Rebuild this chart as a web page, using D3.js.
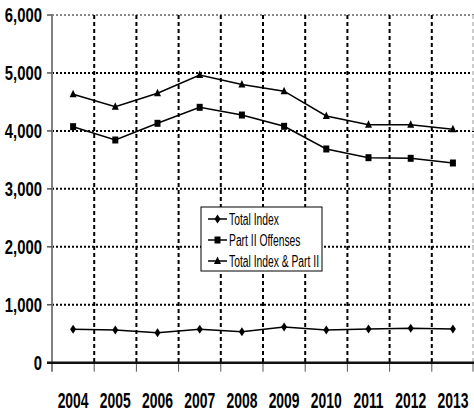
<!DOCTYPE html>
<html><head><meta charset="utf-8">
<script src="https://cdn.jsdelivr.net/npm/d3@7"></script>
<style>
body{margin:0;background:#fff;}
svg{display:block;}
text{font-family:"Liberation Sans Narrow","Arial Narrow","Liberation Sans",sans-serif;}
</style></head>
<body>
<svg id="c" width="474" height="412"></svg>
<script>
const years = ["2004","2005","2006","2007","2008","2009","2010","2011","2012","2013"];
const totalIndex = [576, 564, 518, 576, 535, 616, 564, 581, 593, 581];
const partII = [4073, 3843, 4131, 4407, 4274, 4079, 3688, 3538, 3527, 3446];
const totalAll = [4632, 4418, 4650, 4965, 4800, 4685, 4257, 4107, 4107, 4028];
const yTicks = [0, 1000, 2000, 3000, 4000, 5000, 6000];
const seriesNames = ["Total Index", "Part II Offenses", "Total Index & Part II"];

const svg = d3.select("#c");
const L = 52, R = 474, T = 15, B = 362.7;
const x = d3.scaleBand().domain(years).range([L, R]).padding(0);
const y = d3.scaleLinear().domain([0, 6000]).range([B, T]);
const fmt = d3.format(",");

// horizontal gridlines
svg.append("g").selectAll("line").data(yTicks.filter(d => d > 0)).join("line")
  .attr("x1", L).attr("x2", R)
  .attr("y1", d => y(d)).attr("y2", d => y(d))
  .attr("stroke", d => d === 6000 ? "#888" : "#000")
  .attr("stroke-width", 2)
  .attr("stroke-dasharray", "2,2");

// vertical gridlines at band boundaries
const bounds = years.slice(1).map(d => x(d)).concat([R - 1]);
svg.append("g").selectAll("line").data(bounds).join("line")
  .attr("x1", d => d).attr("x2", d => d)
  .attr("y1", T).attr("y2", B)
  .attr("stroke", (d, i) => i === bounds.length - 1 ? "#ccc" : "#000")
  .attr("stroke-width", 2)
  .attr("stroke-dasharray", "4,3");

// x tick marks
svg.append("g").selectAll("line").data(years.map(d => x(d)).concat([R - 1]).slice(1)).join("line")
  .attr("x1", d => d).attr("x2", d => d)
  .attr("y1", B).attr("y2", B + 9)
  .attr("stroke", "#555").attr("stroke-width", 1);

// y axis
svg.append("line").attr("x1", L).attr("x2", L).attr("y1", T).attr("y2", B + 9)
  .attr("stroke", "#808080").attr("stroke-width", 2);
svg.append("g").selectAll("line").data(yTicks).join("line")
  .attr("x1", L - 5).attr("x2", L)
  .attr("y1", d => y(d)).attr("y2", d => y(d))
  .attr("stroke", "#555").attr("stroke-width", 1.5);

// x axis
svg.append("line").attr("x1", L - 5).attr("x2", R).attr("y1", B).attr("y2", B)
  .attr("stroke", "#111").attr("stroke-width", 2.5);

// y labels
svg.append("g").selectAll("text").data(yTicks).join("text")
  .attr("transform", d => `translate(42,${y(d)}) scale(0.9,1.25)`)
  .attr("text-anchor", "end").attr("dy", "0.36em")
  .attr("font-size", 16.5).attr("font-weight", "bold")
  .text(d => fmt(d));

// x labels
svg.append("g").selectAll("text").data(years).join("text")
  .attr("transform", d => `translate(${x(d) + x.bandwidth() / 2},${400}) scale(0.87,1.4)`)
  .attr("text-anchor", "middle").attr("dy", "0.36em")
  .attr("font-size", 16).attr("font-weight", "bold")
  .text(d => d);

const line = d3.line().x((d, i) => x(years[i]) + x.bandwidth() / 2).y(d => y(d));
const data = [totalIndex, partII, totalAll];
const shapes = ["diamond", "square", "triangle"];
function markerPath(s) {
  if (s === "diamond") return "M0,-4.5L3,0L0,4.5L-3,0Z";
  if (s === "square") return "M-3,-3.5L3,-3.5L3,3.5L-3,3.5Z";
  return "M0,-4.5L3.5,3L-3.5,3Z";
}
data.forEach((arr, k) => {
  svg.append("path").datum(arr).attr("d", line)
    .attr("fill", "none").attr("stroke", "#000").attr("stroke-width", 1.5);
  svg.append("g").selectAll("path").data(arr).join("path")
    .attr("transform", (d, i) => `translate(${x(years[i]) + x.bandwidth() / 2},${y(d)})`)
    .attr("d", markerPath(shapes[k])).attr("fill", "#000");
});

// legend
const lg = svg.append("g");
lg.append("rect").attr("x", 201).attr("y", 207).attr("width", 121).attr("height", 64)
  .attr("fill", "#fff").attr("stroke", "#000").attr("stroke-width", 1);
seriesNames.forEach((n, i) => {
  const cy = 219 + i * 21;
  lg.append("line").attr("x1", 208).attr("x2", 227).attr("y1", cy).attr("y2", cy)
    .attr("stroke", "#000").attr("stroke-width", 1.5);
  lg.append("path").attr("transform", `translate(217.5,${cy})`).attr("d", markerPath(shapes[i])).attr("fill", "#000");
  lg.append("text").attr("transform", `translate(229,${cy}) scale(0.86,1.3)`)
    .attr("dy", "0.36em").attr("font-size", 12).text(n);
});
</script>
</body></html>
